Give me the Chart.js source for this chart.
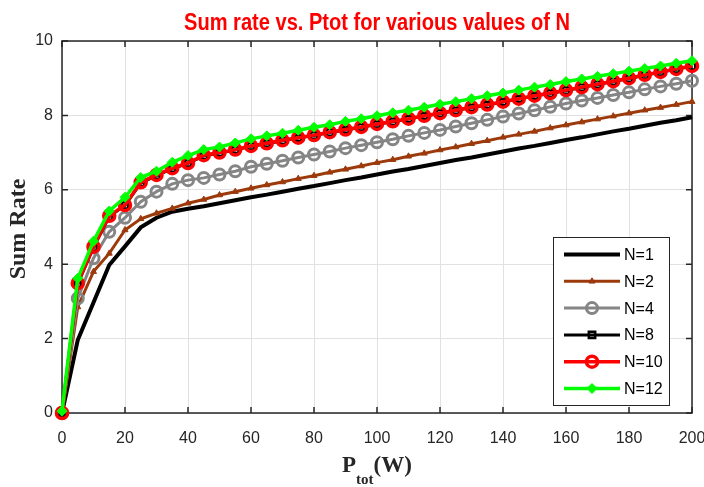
<!DOCTYPE html>
<html>
<head>
<meta charset="utf-8">
<script src="https://cdn.jsdelivr.net/npm/chart.js@4.4.1/dist/chart.umd.min.js"></script>
<style>
  body { margin: 0; background: #fff; }
  #wrap { width: 704px; height: 487px; }
</style>
</head>
<body>
<div id="wrap"><canvas id="rateChart" width="704" height="487"></canvas></div>
<script>
// data
const ptot = [0, 5, 10, 15, 20, 25, 30, 35, 40, 45, 50, 55, 60, 65, 70, 75, 80, 85, 90, 95, 100,
  105, 110, 115, 120, 125, 130, 135, 140, 145, 150, 155, 160, 165, 170, 175, 180, 185, 190, 195, 200];

const rateN1 = [0, 1.96, 2.97, 3.98, 4.48, 4.99, 5.25, 5.41, 5.49, 5.56, 5.64, 5.72, 5.80, 5.87, 5.95, 6.03, 6.10,
  6.18, 6.26, 6.33, 6.41, 6.49, 6.56, 6.64, 6.72, 6.80, 6.87, 6.95, 7.03, 7.11, 7.18, 7.26, 7.34, 7.41, 7.49, 7.57,
  7.64, 7.72, 7.80, 7.87, 7.95];
const rateN2 = [0, 2.85, 3.80, 4.29, 4.92, 5.22, 5.37, 5.50, 5.64, 5.74, 5.86, 5.95, 6.04, 6.13, 6.21, 6.30, 6.38,
  6.47, 6.55, 6.64, 6.73, 6.81, 6.90, 6.98, 7.07, 7.15, 7.24, 7.32, 7.41, 7.49, 7.57, 7.66, 7.74, 7.82, 7.90, 7.98,
  8.06, 8.14, 8.21, 8.29, 8.37];
const rateN4 = [0, 3.08, 4.16, 4.87, 5.25, 5.68, 5.95, 6.16, 6.26, 6.32, 6.41, 6.50, 6.62, 6.70, 6.78, 6.87, 6.95,
  7.03, 7.12, 7.20, 7.28, 7.36, 7.45, 7.53, 7.61, 7.70, 7.79, 7.88, 7.97, 8.05, 8.14, 8.23, 8.32, 8.40, 8.47, 8.55,
  8.62, 8.70, 8.78, 8.85, 8.93];
const rateN8 = [0, 3.47, 4.45, 5.28, 5.58, 6.18, 6.38, 6.57, 6.71, 6.91, 6.99, 7.07, 7.17, 7.24, 7.32, 7.39, 7.46,
  7.54, 7.61, 7.68, 7.76, 7.83, 7.90, 7.98, 8.05, 8.13, 8.21, 8.28, 8.36, 8.44, 8.52, 8.59, 8.67, 8.75, 8.83, 8.91,
  8.99, 9.08, 9.16, 9.24, 9.32];
const rateN10 = [0, 3.49, 4.47, 5.30, 5.59, 6.20, 6.40, 6.58, 6.72, 6.93, 7.00, 7.08, 7.18, 7.25, 7.33, 7.40, 7.47,
  7.55, 7.62, 7.69, 7.77, 7.84, 7.91, 7.99, 8.06, 8.14, 8.22, 8.29, 8.37, 8.45, 8.53, 8.60, 8.68, 8.76, 8.84, 8.92,
  9.00, 9.09, 9.17, 9.25, 9.33];
const rateN12 = [0.05, 3.62, 4.62, 5.43, 5.80, 6.33, 6.50, 6.74, 6.92, 7.08, 7.15, 7.26, 7.37, 7.45, 7.52, 7.60, 7.68,
  7.75, 7.84, 7.91, 7.99, 8.07, 8.14, 8.22, 8.30, 8.37, 8.45, 8.53, 8.60, 8.68, 8.76, 8.83, 8.91, 8.98, 9.05, 9.12,
  9.19, 9.26, 9.33, 9.40, 9.47];

const seriesNames = ['N=1', 'N=2', 'N=4', 'N=8', 'N=10', 'N=12'];
const xTicks = [0, 20, 40, 60, 80, 100, 120, 140, 160, 180, 200];
const yTicks = [0, 2, 4, 6, 8, 10];

const SANS = '"Liberation Sans", Arial, sans-serif';
const SERIF = '"Liberation Serif", "Times New Roman", serif';
const AXIS_COLOR = '#262626';

function pts(arr) {
  return ptot.map((x, i) => ({ x: x, y: arr[i] }));
}

// 데이터셋 스타일
const styles = [
  { color: '#000000', width: 4, style: 'circle', radius: 0, bw: 0, fill: '#000000' },
  { color: '#9c3a0c', width: 3, style: 'triangle', radius: 3.5, bw: 1, fill: '#9c3a0c' },
  { color: '#858585', width: 3, style: 'circle', radius: 5.5, bw: 3, fill: 'rgba(0,0,0,0)' },
  { color: '#000000', width: 3, style: 'rect', radius: 4.5, bw: 2.5, fill: 'rgba(0,0,0,0)' },
  { color: '#ff0000', width: 3.5, style: 'circle', radius: 5.5, bw: 3.5, fill: 'rgba(0,0,0,0)' },
  { color: '#00ff00', width: 3.5, style: 'rectRot', radius: 5, bw: 1, fill: '#00ff00' }
];
const allRates = [rateN1, rateN2, rateN4, rateN8, rateN10, rateN12];

const datasets = allRates.map((arr, i) => {
  const s = styles[i];
  return {
    label: seriesNames[i],
    data: pts(arr),
    borderColor: s.color,
    backgroundColor: s.fill,
    borderWidth: s.width,
    pointStyle: s.style,
    pointRadius: s.radius,
    pointBorderWidth: s.bw,
    pointBorderColor: s.color,
    pointBackgroundColor: s.fill,
    tension: 0,
    fill: false,
    clip: false,
    order: allRates.length - 1 - i // green on top
  };
});

// axes box + inward ticks
const axesBox = {
  id: 'axesBox',
  beforeDatasetsDraw(chart) {
    const { ctx, chartArea: a, scales } = chart;
    ctx.save();
    ctx.strokeStyle = AXIS_COLOR;
    ctx.lineWidth = 1.5;
    ctx.strokeRect(a.left, a.top, a.right - a.left, a.bottom - a.top);
    ctx.beginPath();
    xTicks.forEach(v => {
      const px = scales.x.getPixelForValue(v);
      ctx.moveTo(px, a.bottom); ctx.lineTo(px, a.bottom - 6);
      ctx.moveTo(px, a.top); ctx.lineTo(px, a.top + 6);
    });
    yTicks.forEach(v => {
      const py = scales.y.getPixelForValue(v);
      ctx.moveTo(a.left, py); ctx.lineTo(a.left + 6, py);
      ctx.moveTo(a.right, py); ctx.lineTo(a.right - 6, py);
    });
    ctx.stroke();
    ctx.restore();
  }
};

const labels = {
  id: 'labels',
  afterDraw(chart) {
    const { ctx, chartArea: a } = chart;
    const cx = (a.left + a.right) / 2;
    ctx.save();
    // title
    ctx.fillStyle = '#ff0000';
    ctx.font = 'bold 24px ' + SANS;
    ctx.textBaseline = 'alphabetic';
    ctx.textAlign = 'center';
    const title = 'Sum rate vs. Ptot for various values of N';
    const sx = 386 / ctx.measureText(title).width;
    ctx.save();
    ctx.translate(cx, 30);
    ctx.scale(sx, 1);
    ctx.fillText(title, 0, 0);
    ctx.restore();

    // y label
    ctx.fillStyle = '#262626';
    ctx.font = 'bold 24px ' + SERIF;
    ctx.save();
    ctx.translate(25, (a.top + a.bottom) / 2 + 2);
    ctx.rotate(-Math.PI / 2);
    ctx.textAlign = 'center';
    ctx.fillText('Sum Rate', 0, 0);
    ctx.restore();

    // x label P_tot(W)
    ctx.textAlign = 'left';
    const big = 'bold 23px ' + SERIF, small = 'bold 15px ' + SERIF;
    ctx.font = big; const wP = ctx.measureText('P').width; const wW = ctx.measureText('(W)').width;
    ctx.font = small; const wS = ctx.measureText('tot').width;
    let x = cx - (wP + wS + wW) / 2;
    const base = 472;
    ctx.font = big; ctx.fillText('P', x, base); x += wP;
    ctx.font = small; ctx.fillText('tot', x, base + 12); x += wS;
    ctx.font = big; ctx.fillText('(W)', x, base);
    ctx.restore();
  }
};

// legend inside the axes, lower right
const legendBox = {
  id: 'legendBox',
  afterDraw(chart) {
    const ctx = chart.ctx;
    const x0 = 553, y0 = 237, w = 116, h = 168;
    ctx.save();
    ctx.fillStyle = '#ffffff';
    ctx.fillRect(x0, y0, w, h);
    ctx.strokeStyle = AXIS_COLOR;
    ctx.lineWidth = 1;
    ctx.strokeRect(x0 + 0.5, y0 + 0.5, w, h);
    chart.data.datasets.forEach((ds, i) => {
      const yy = 254.5 + i * 26.8;
      ctx.strokeStyle = ds.borderColor;
      ctx.lineWidth = ds.borderWidth;
      ctx.beginPath();
      ctx.moveTo(564, yy); ctx.lineTo(620, yy);
      ctx.stroke();
      if (ds.pointRadius > 0 && Chart.helpers && Chart.helpers.drawPoint) {
        ctx.fillStyle = ds.pointBackgroundColor;
        ctx.strokeStyle = ds.pointBorderColor;
        ctx.lineWidth = ds.pointBorderWidth;
        Chart.helpers.drawPoint(ctx, {
          pointStyle: ds.pointStyle, radius: ds.pointRadius,
          borderWidth: ds.pointBorderWidth, rotation: 0
        }, 592, yy);
      }
      ctx.fillStyle = '#000';
      ctx.font = '16px ' + SANS;
      ctx.textBaseline = 'middle';
      ctx.textAlign = 'left';
      ctx.fillText(ds.label, 624, yy + 1);
    });
    ctx.restore();
  }
};

const chart = new Chart(document.getElementById('rateChart'), {
  type: 'line',
  data: { datasets: datasets },
  options: {
    responsive: false,
    animation: false,
    events: [],
    layout: { padding: { top: 41, right: 12, left: 0, bottom: 0 } },
    plugins: { legend: { display: false }, tooltip: { enabled: false } },
    scales: {
      x: {
        type: 'linear', min: 0, max: 200,
        afterBuildTicks(s) { s.ticks = xTicks.map(v => ({ value: v })); },
        ticks: { font: { family: SANS, size: 16 }, color: AXIS_COLOR, padding: 16, maxRotation: 0, autoSkip: false },
        grid: { color: '#e1e1e1', drawTicks: false },
        border: { display: false },
        afterFit(s) { s.height = 74; s.paddingLeft = 0; s.paddingRight = 0; }
      },
      y: {
        min: 0, max: 10,
        afterBuildTicks(s) { s.ticks = yTicks.map(v => ({ value: v })); },
        ticks: { font: { family: SANS, size: 16 }, color: AXIS_COLOR, padding: 9 },
        grid: { color: '#e1e1e1', drawTicks: false },
        border: { display: false },
        afterFit(s) { s.width = 62; s.paddingTop = 0; s.paddingBottom = 0; }
      }
    }
  },
  plugins: [axesBox, labels, legendBox]
});
</script>
</body>
</html>
